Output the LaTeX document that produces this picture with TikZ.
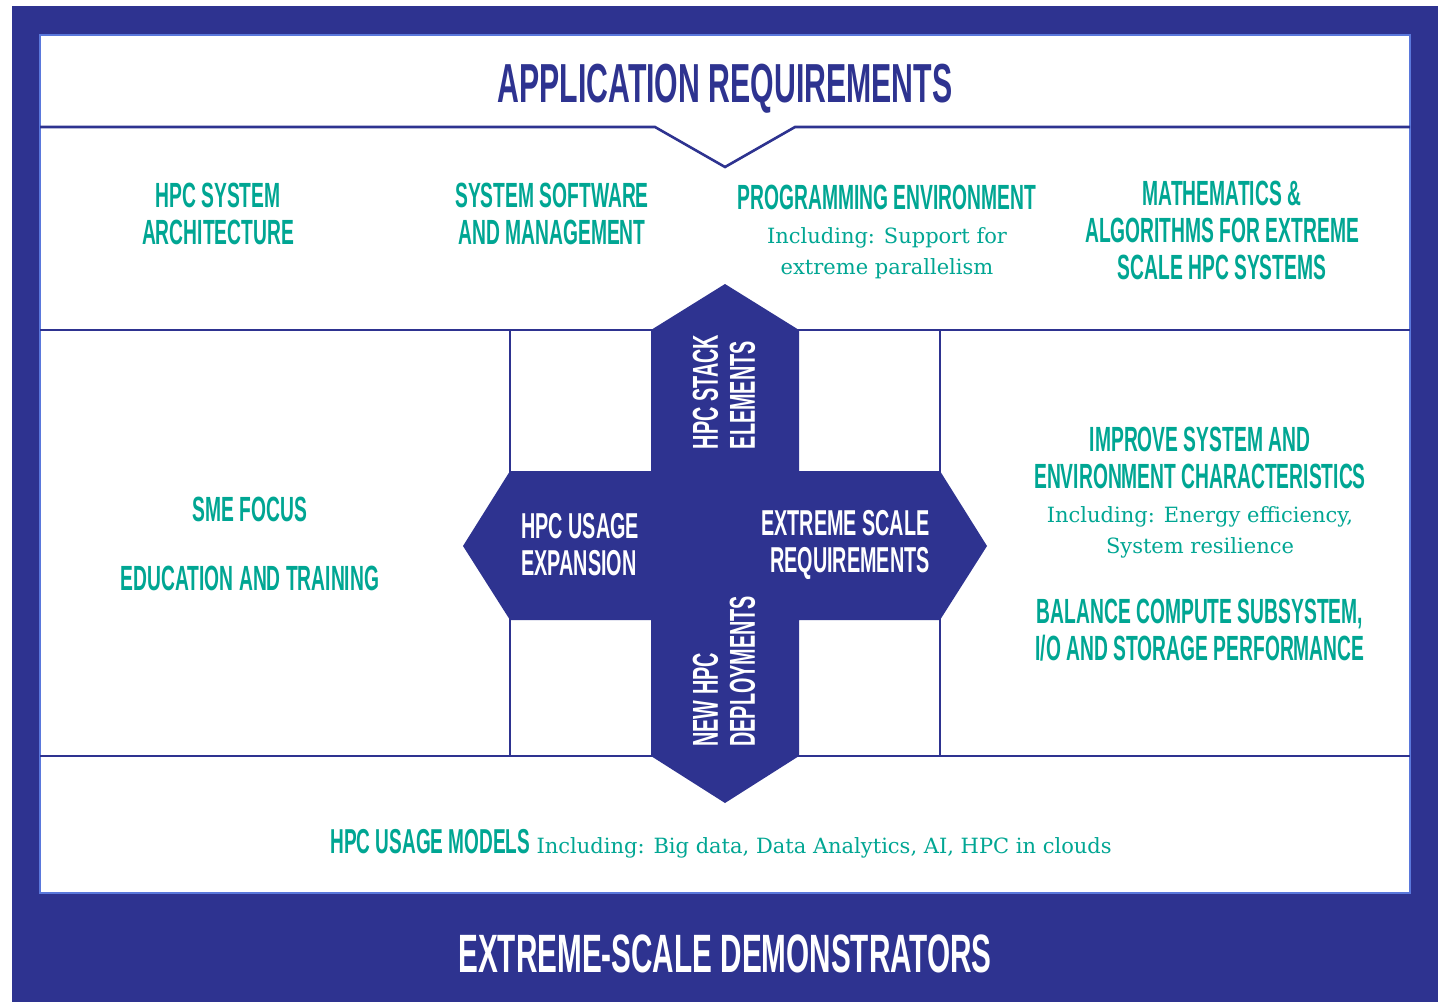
\documentclass[tikz,border=0pt]{standalone}
\usepackage{fontspec}
\setmainfont{DejaVu Serif}
\newfontfamily\hdfont[FakeStretch=0.55]{Liberation Sans}
\definecolor{navy}{RGB}{46,51,144}
\definecolor{tealx}{RGB}{0,166,147}
\definecolor{edgeblue}{RGB}{90,120,220}
\tikzset{
  sepline/.style={draw=navy, line width=1.3pt},
  hdtext/.style={font=\hdfont\bfseries\fontsize{17.5}{18.5}\selectfont, text=tealx, align=center, inner sep=0pt},
  subtext/.style={font=\fontsize{10.5}{15.5}\selectfont, text=tealx, align=center, inner sep=0pt},
  crosstext/.style={font=\hdfont\bfseries\fontsize{18}{18.5}\selectfont, text=white, inner sep=0pt},
  bigtitle/.style={font=\hdfont\bfseries\fontsize{27.5}{30}\selectfont, inner sep=0pt, anchor=base},
}
\begin{document}
\begin{tikzpicture}[x=0.5pt,y=-0.5pt]
\useasboundingbox (0,0) rectangle (1441,1002);
\fill[white] (0,0) rectangle (1441,1002);
% outer frame
\fill[navy] (12,6) rectangle (1438,1002);
\draw[fill=white, draw=edgeblue, line width=0.8pt] (40,35) rectangle (1410,893);
% separators
\draw[sepline] (40,127) -- (655,127) -- (725,167) -- (795,127) -- (1410,127);
\draw[sepline] (40,330) -- (1410,330);
\draw[sepline] (40,756) -- (1410,756);
\draw[sepline] (510,330) -- (510,756);
\draw[sepline] (940,330) -- (940,756);
% cross
\fill[navy] (725,284) -- (799,330) -- (799,471) -- (940,471) -- (987,546) -- (940,620)
  -- (799,620) -- (799,756) -- (725,803) -- (651,756) -- (651,620) -- (510,620)
  -- (463,546) -- (510,471) -- (651,471) -- (651,330) -- cycle;

% titles
\node[bigtitle, text=navy] (appreq) at (725,102) {APPLICATION REQUIREMENTS};
\node[bigtitle, text=white, font=\hdfont\bfseries\fontsize{27}{30}\selectfont] (demo) at (725,972) {EXTREME-SCALE DEMONSTRATORS};

% row 2
\node[hdtext] (arch) at (218,214) {HPC SYSTEM\\ARCHITECTURE};
\node[hdtext] (syssw) at (552,214) {SYSTEM SOFTWARE\\AND MANAGEMENT};
\node[hdtext] (progenv) at (887,197) {PROGRAMMING ENVIRONMENT};
\node[subtext] (progsub) at (887,253) {Including: Support for\\extreme parallelism};
\node[hdtext] (math) at (1222,230) {MATHEMATICS \&\\ALGORITHMS FOR EXTREME\\SCALE HPC SYSTEMS};

% row 3 left
\node[hdtext] (sme) at (250,509) {SME FOCUS};
\node[hdtext] (edu) at (250,578) {EDUCATION AND TRAINING};

% row 3 right
\node[hdtext] (improve) at (1200,458) {IMPROVE SYSTEM AND\\ENVIRONMENT CHARACTERISTICS};
\node[subtext] (improvesub) at (1200,532) {Including: Energy efficiency,\\System resilience};
\node[hdtext] (balance) at (1200,630) {BALANCE COMPUTE SUBSYSTEM,\\I/O AND STORAGE PERFORMANCE};

% cross labels
\node[crosstext, align=left, anchor=west] (usage) at (521,545) {HPC USAGE\\EXPANSION};
\node[crosstext, align=right, anchor=east] (extreme) at (930,545) {EXTREME SCALE\\REQUIREMENTS};
\node[crosstext, align=left, rotate=90] (stack) at (724,392) {HPC STACK\\ELEMENTS};
\node[crosstext, align=left, rotate=90, anchor=west] (newdep) at (724,747) {NEW HPC\\DEPLOYMENTS};

% bottom row
\node[inner sep=0pt, anchor=base west, text=tealx] (models) at (330,853)
  {{\hdfont\bfseries\fontsize{17.3}{20}\selectfont HPC USAGE MODELS} {\fontsize{10.5}{14}\selectfont Including: Big data, Data Analytics, AI, HPC in clouds}};
\end{tikzpicture}
\end{document}
